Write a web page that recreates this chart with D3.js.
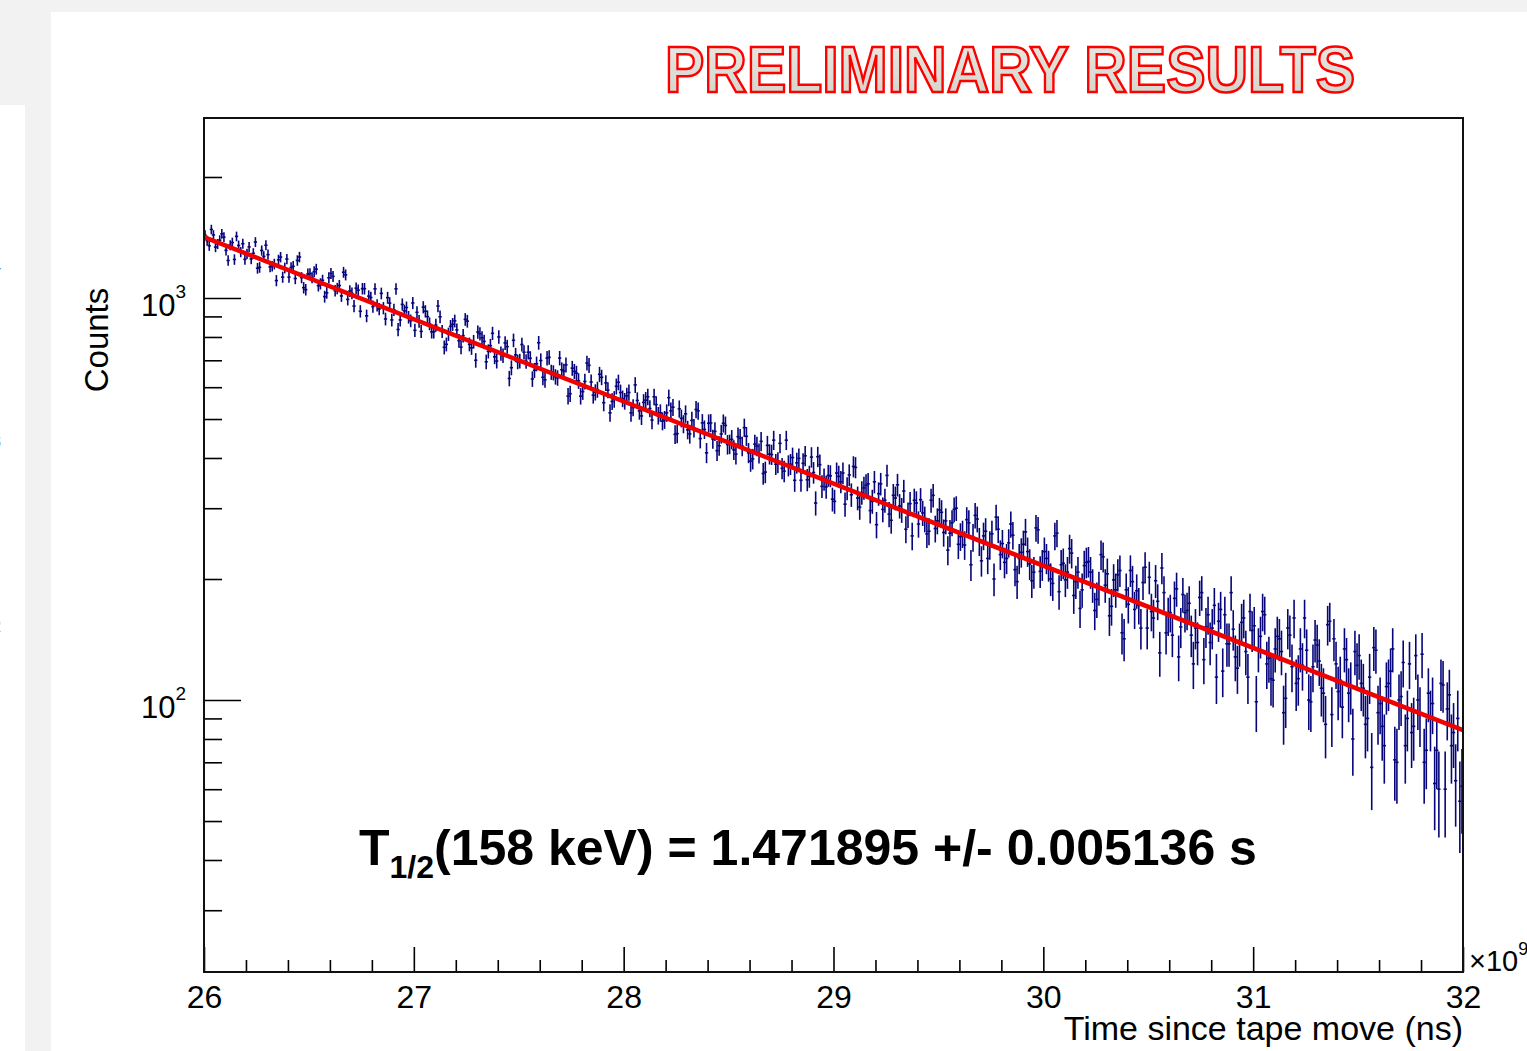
<!DOCTYPE html>
<html>
<head>
<meta charset="utf-8">
<script src="https://cdn.jsdelivr.net/npm/d3@7"></script>
<style>
  body { margin: 0; background: #f2f2f2; }
  svg { display: block; }
  text { font-family: "Liberation Sans", Arial, Helvetica, sans-serif; }
</style>
</head>
<body>
<svg id="chart" width="1527" height="1051"></svg>
<script>
// Data ------------------------------------------------------------------------------------

// histogram: 600 bins from 26 to 32 (x10^9 ns), counts per bin
// even and odd bins are kept in two lists and interleaved below
const xRange = [26, 32];
const yRange = [21.06, 2804];
const countsEven = [
  1434,1349,1435,1363,1444,1314,1353,1247,1351,1365,1288,1251,1378,1192,1269,1282,1200,1105,1264,1188,1127,1199,1240,1124,1049,
  1150,1163,1073,1107,1030,1151,1043,1074,1159,992,1027,1058,927,1055,1011,952,959,1027,887,971,935,835,964,947,878,
  831,875,949,899,824,856,898,754,813,860,833,755,885,767,779,823,796,694,761,714,800,719,757,671,722,
  697,733,733,629,686,699,626,712,652,633,663,682,578,657,622,585,689,618,583,646,549,590,553,603,582,
  554,582,534,556,509,557,531,568,510,494,518,524,458,530,486,470,496,528,447,471,488,446,417,459,482,
  433,419,452,428,453,393,433,411,366,430,408,386,435,371,383,401,389,352,405,360,368,403,340,339,361,
  312,360,367,336,324,379,302,337,345,312,273,345,314,290,323,343,297,266,308,314,274,292,259,314,267,
  297,261,236,276,300,255,243,276,254,282,222,263,243,200,266,245,225,274,211,225,244,234,198,268,209,
  234,216,195,260,217,199,238,182,208,188,220,208,167,190,227,206,171,188,210,142,173,197,187,151,214,
  202,160,176,213,147,165,179,128,183,167,145,151,180,126,163,151,114,168,163,138,150,120,156,132,166,
  153,134,166,123,113,134,142,93,151,121,110,134,160,100,121,137,107,87,157,142,105,96,126,108,132,
  129,107,90,68,133,98,77,110,134,70,102,77,123,86,100,130,75,90,62,60,109,95,77,63,56
];
const countsOdd = [
  1389,1481,1339,1393,1417,1240,1374,1423,1301,1248,1340,1292,1186,1313,1353,1195,1215,1244,1127,1250,1191,1118,1265,1061,1148,
  1124,1180,1085,1008,1123,1132,1056,1012,1142,1041,955,1046,1055,903,1003,1054,939,944,1002,882,1054,882,929,896,972,
  921,826,927,863,824,955,826,767,850,877,783,806,876,752,700,815,780,737,817,697,728,773,631,785,694,
  766,696,708,661,774,635,709,654,637,709,658,570,669,650,570,620,680,573,592,635,615,518,560,617,562,
  571,518,608,524,550,568,497,543,518,498,565,535,460,502,515,459,475,524,489,412,489,466,429,488,432,
  445,409,448,476,412,398,428,440,369,409,443,390,377,443,386,352,399,388,353,402,309,385,354,362,316,
  367,349,307,363,381,318,328,342,296,349,326,298,362,280,318,304,331,289,256,309,315,282,263,323,279,
  293,279,260,298,244,259,281,217,288,248,256,225,259,285,230,220,246,257,197,233,262,218,208,265,217,
  225,200,256,186,219,208,232,197,169,216,221,193,178,230,193,162,199,205,147,188,210,168,172,196,151,
  166,198,131,185,162,145,189,152,165,174,123,139,185,152,139,172,157,118,138,185,128,138,160,114,149,
  99,144,163,127,112,144,132,101,145,160,113,122,133,99,141,125,104,154,92,123,112,134,104,80,122,
  110,87,114,135,93,86,108,118,71,100,124,90,83,129,92,70,104,98,75,110,60,103,83,90,61
];
// background under the peak per bin (background subtracted spectrum -> larger errors)
const bkgPerBin = 75;

// exponential fit, end points (straight on a log axis)
const fitX = [26, 32];
const fitY = [1418, 84.2];

const xMajor = [26, 27, 28, 29, 30, 31, 32];
const xMinor = [26.2,26.4,26.6,26.8,27.2,27.4,27.6,27.8,28.2,28.4,28.6,28.8,29.2,29.4,29.6,29.8,
                30.2,30.4,30.6,30.8,31.2,31.4,31.6,31.8];
const yMajor = [100, 1000];
const yMinor = [30, 40, 50, 60, 70, 80, 90, 200, 300, 400, 500, 600, 700, 800, 900, 2000];

const counts = [];
countsEven.forEach((c, i) => { counts.push(c); counts.push(countsOdd[i]); });

// Layout ----------------------------------------------------------------------------------

const plot = { left: 204, right: 1463, top: 118, bottom: 972 };
const svg = d3.select("#chart");

const x = d3.scaleLinear().domain(xRange).range([plot.left, plot.right]);
const y = d3.scaleLog().domain(yRange).range([plot.bottom, plot.top]);

// Slide background ------------------------------------------------------------------------

function drawBackground() {
    svg.append("rect").attr("x", 0).attr("y", 0).attr("width", 1527).attr("height", 1051).attr("fill", "#f2f2f2");
    svg.append("rect").attr("x", 0).attr("y", 105).attr("width", 25).attr("height", 946).attr("fill", "#ffffff");
    svg.append("rect").attr("x", 51).attr("y", 12).attr("width", 1476).attr("height", 1039).attr("fill", "#ffffff");

    // cut-off labels of the neighbouring slide
    const leftMarks = [{ t: "4", y: 272 }, { t: "3", y: 447 }, { t: "2", y: 632 }];
    svg.selectAll(".leftMark").data(leftMarks).enter().append("text")
        .attr("class", "leftMark")
        .attr("x", -8).attr("y", d => d.y)
        .attr("font-size", "16px").attr("fill", "#333")
        .text(d => d.t);

    const defs = svg.append("defs");
    const grad = defs.append("linearGradient").attr("id", "prelimFill")
        .attr("x1", 0).attr("y1", 0).attr("x2", 0).attr("y2", 1);
    grad.append("stop").attr("offset", "0%").attr("stop-color", "#ebebe5");
    grad.append("stop").attr("offset", "100%").attr("stop-color", "#d0d1c8");

    defs.append("clipPath").attr("id", "plotClip").append("rect")
        .attr("x", plot.left).attr("y", plot.top)
        .attr("width", plot.right - plot.left).attr("height", plot.bottom - plot.top);

    svg.append("text")
        .attr("x", 665).attr("y", 92)
        .attr("textLength", 690).attr("lengthAdjust", "spacingAndGlyphs")
        .attr("font-family", "'Open Sans', 'Noto Sans', sans-serif")
        .attr("font-weight", 800).attr("font-size", "65px")
        .attr("fill", "url(#prelimFill)").attr("stroke", "#ff0000").attr("stroke-width", 2.6)
        .text("PRELIMINARY RESULTS");
}

// Axes ------------------------------------------------------------------------------------

function drawAxes() {
    const g = svg.append("g");

    const xMin = g.append("g").attr("transform", `translate(0,${plot.bottom})`)
        .call(d3.axisBottom(x).tickValues(xMinor).tickSize(-12).tickFormat(""));
    const xMaj = g.append("g").attr("transform", `translate(0,${plot.bottom})`)
        .call(d3.axisBottom(x).tickValues(xMajor).tickSize(-25).tickPadding(13).tickFormat(d3.format("d")));
    xMaj.selectAll("text").attr("font-size", "32px").attr("fill", "#000");

    const yMin = g.append("g").attr("transform", `translate(${plot.left},0)`)
        .call(d3.axisLeft(y).tickValues(yMinor).tickSize(-18).tickFormat(""));
    const yMaj = g.append("g").attr("transform", `translate(${plot.left},0)`)
        .call(d3.axisLeft(y).tickValues(yMajor).tickSize(-37).tickPadding(18).tickFormat(""));
    yMaj.selectAll("text")
        .attr("font-size", "31px").attr("fill", "#000").attr("dy", "0.55em")
        .each(function (d) {
            const t = d3.select(this);
            t.append("tspan").text("10");
            t.append("tspan").attr("font-size", "19px").attr("dy", "-0.95em").text(Math.round(Math.log10(d)));
        });

    [xMin, xMaj, yMin, yMaj].forEach(a => {
        a.select(".domain").remove();
        a.selectAll("line").attr("stroke", "#000").attr("stroke-width", 1.6);
    });

    // frame
    g.append("rect")
        .attr("x", plot.left).attr("y", plot.top)
        .attr("width", plot.right - plot.left).attr("height", plot.bottom - plot.top)
        .attr("fill", "none").attr("stroke", "#111").attr("stroke-width", 2);

    // x10^9 exponent, cut by the window edge as in the slide
    const ex = g.append("text").attr("x", 1469).attr("y", 971).attr("font-size", "29px").attr("fill", "#000");
    ex.append("tspan").text("\u00d710");
    ex.append("tspan").attr("font-size", "18px").attr("dy", "-0.9em").text("9");

    g.append("text")
        .attr("x", plot.right).attr("y", 1040)
        .attr("text-anchor", "end").attr("font-size", "34px").attr("fill", "#000")
        .text("Time since tape move (ns)");

    g.append("text")
        .attr("transform", "translate(108,340) rotate(-90)")
        .attr("text-anchor", "middle").attr("font-size", "33px").attr("fill", "#000")
        .text("Counts");
}

// Histogram with error bars ---------------------------------------------------------------

function drawHistogram() {
    const binW = (xRange[1] - xRange[0]) / counts.length;
    const bins = counts.map((c, i) => ({
        lo: xRange[0] + i * binW,
        hi: xRange[0] + (i + 1) * binW,
        n: c,
        err: Math.sqrt(c + 2 * bkgPerBin)
    }));

    const g = svg.append("g").attr("clip-path", "url(#plotClip)")
        .attr("stroke", "#06067a").attr("stroke-width", 1.6);

    g.selectAll(".ebar").data(bins).enter().append("line")
        .attr("class", "ebar")
        .attr("x1", d => x((d.lo + d.hi) / 2)).attr("x2", d => x((d.lo + d.hi) / 2))
        .attr("y1", d => y(d.n + d.err)).attr("y2", d => y(d.n - d.err));

    g.selectAll(".hbar").data(bins).enter().append("line")
        .attr("class", "hbar")
        .attr("x1", d => x(d.lo) - 0.6).attr("x2", d => x(d.hi) + 0.6)
        .attr("y1", d => y(d.n)).attr("y2", d => y(d.n));
}

function drawFit() {
    const pts = fitX.map((v, i) => [v, fitY[i]]);
    const line = d3.line().x(d => x(d[0])).y(d => y(d[1]));
    svg.append("path")
        .attr("clip-path", "url(#plotClip)")
        .attr("d", line(pts))
        .attr("fill", "none").attr("stroke", "#f00000").attr("stroke-width", 4.5);
}

function drawLabel() {
    const t = svg.append("text")
        .attr("x", 359).attr("y", 865)
        .attr("font-size", "50px").attr("font-weight", 700).attr("fill", "#000");
    t.append("tspan").text("T");
    t.append("tspan").attr("font-size", "32px").attr("dy", "0.4em").text("1/2");
    t.append("tspan").attr("dy", "-0.25em").text("(158 keV) = 1.471895 +/- 0.005136 s");
}

// Main -----------------------------------------------------------------------------------

drawBackground();
drawHistogram();
drawFit();
drawAxes();
drawLabel();
</script>
</body>
</html>
